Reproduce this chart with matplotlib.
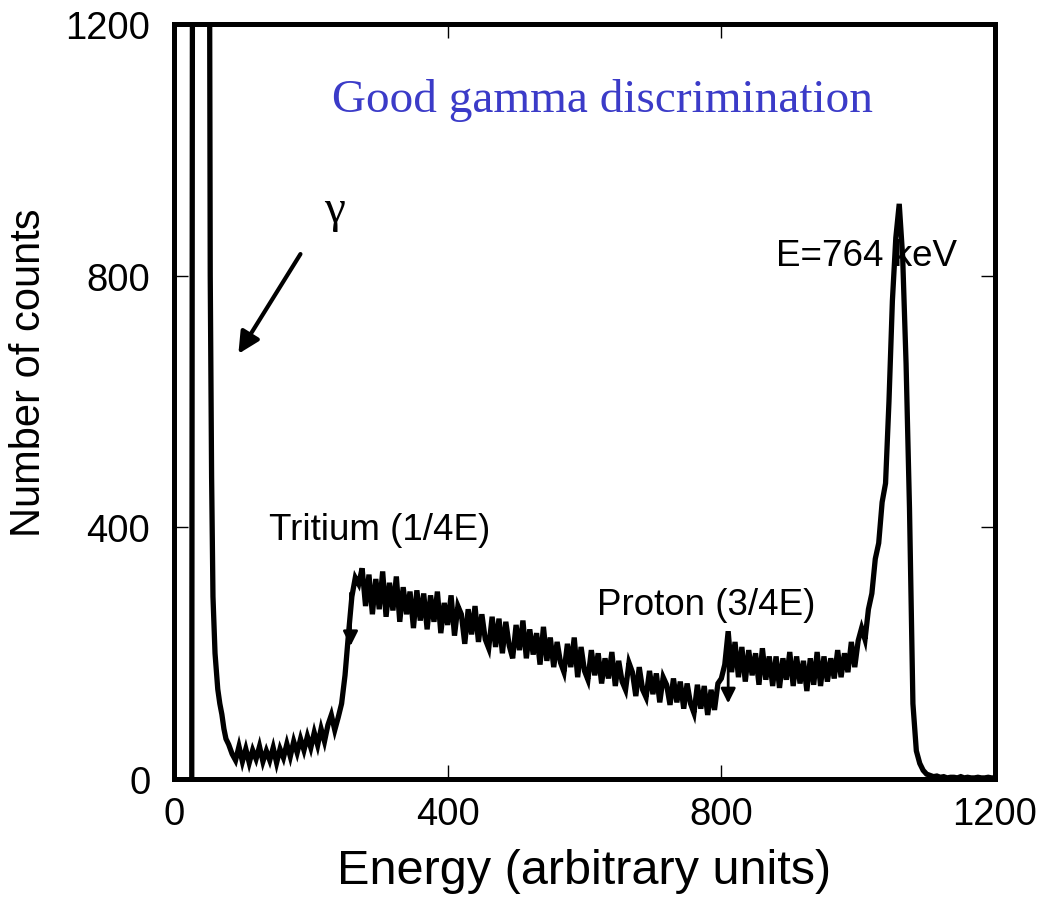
import numpy as np
from matplotlib import pyplot as plt

# gamma peak (runs off the top of the plot)
energy_gamma = [26, 27, 52, 53, 55, 57, 60, 64, 67, 70, 73, 76]
counts_gamma = [0, 1300, 1300, 800, 480, 290, 200, 143, 120, 103, 80, 64]

# channels on a 5-unit grid, read segment by segment
counts_low = [55, 40, 30, 52, 28, 48, 26, 46, 32, 52, 28, 45, 30, 50, 26, 48, 34,
              56, 36, 60, 42, 64, 46, 68, 50, 74, 54, 80, 60, 86, 102, 78, 98]  # 80-240
counts_edge = [120, 165, 230, 290, 320]                                     # 245-265
counts_tritium = [310, 335, 275, 325, 262, 318, 270, 330, 258, 312,
                  268, 322, 250, 305, 262, 298, 240, 300, 252, 295,
                  238, 292, 250, 298, 232, 280, 245, 292, 228, 275,
                  262, 215, 270, 230, 275, 218, 262, 222, 208, 258,
                  210, 255, 200, 250, 212, 192, 245, 205, 252, 192,
                  238, 198, 232, 182, 242, 188, 225, 178, 218, 185,
                  170, 215, 178, 225, 162, 210, 172, 158, 205, 165,
                  200, 152, 192, 160, 202, 148, 188, 155, 142, 185,
                  170, 132, 178, 142, 130, 172, 135, 168, 122, 162,
                  150, 118, 160, 122, 155, 112, 152, 120, 105, 150,
                  112, 148, 102, 142, 110, 152]                              # 270-795
counts_proton = [160, 182, 235, 170, 218, 162, 210, 155, 205, 165,
                 200, 150, 208, 158, 195, 148, 195, 145, 192, 158,
                 202, 148, 195, 152, 188, 140, 192, 150, 202, 148,
                 195, 155, 192, 160, 205, 162, 200, 170, 218, 178]           # 800-995
counts_peak = [220, 240, 222, 270, 295, 350, 375, 440, 470, 600, 760,
               860, 914, 830, 660, 430, 120, 45, 25, 14, 8]                  # 1000-1100
counts_tail = [6, 4, 5, 3, 4, 2, 3, 3, 2, 4, 2, 3, 2, 2, 3, 2, 2, 3, 2, 2]   # 1105-1200

grid_counts = counts_low + counts_edge + counts_tritium + counts_proton + counts_peak + counts_tail
grid_energy = list(np.arange(80, 80 + 5 * len(grid_counts), 5))

energy = energy_gamma + grid_energy
counts = counts_gamma + grid_counts

fig = plt.figure(figsize=(10.43, 9.2), dpi=100)
ax = fig.add_axes([0.1668, 0.152, 0.7872, 0.821])

ax.plot(energy, counts, color="black", linewidth=3.8, solid_joinstyle="miter")

ax.set_xlim(0, 1200)
ax.set_ylim(0, 1200)
ticks = [0, 400, 800, 1200]
ax.set_xticks(ticks)
ax.set_yticks(ticks)
ax.tick_params(direction="in", length=10, width=1, top=True, right=True, labelsize=27.5)
ax.tick_params(axis="y", pad=17)
ax.tick_params(axis="x", pad=12)
for lab in ax.get_xticklabels() + ax.get_yticklabels():
    lab.set_fontfamily("Liberation Sans")
for sp in ax.spines.values():
    sp.set_linewidth(3.6)

ax.set_xlabel("Energy (arbitrary units)", fontsize=35, family="Liberation Sans", labelpad=12)
ax.set_ylabel("Number of counts", fontsize=30, family="Liberation Sans")
ax.yaxis.set_label_coords(-0.152, 0.54)

# annotations
ax.text(627, 1080, "Good gamma discrimination", color="#3b3bc8", fontsize=34,
        family="Liberation Serif", ha="center", va="center")
ax.text(234, 905, "γ", fontsize=34, family="Liberation Serif", ha="center", va="center")
ax.annotate("", xy=(92, 672), xytext=(187, 838),
            arrowprops=dict(arrowstyle="-|>", lw=3, color="black", mutation_scale=32))
ax.text(1012, 832, "E=764 keV", fontsize=26.5, family="Liberation Sans", ha="center", va="center")
ax.text(300, 397, "Tritium (1/4E)", fontsize=26.5, family="Liberation Sans", ha="center", va="center")
ax.annotate("", xy=(258, 207), xytext=(258, 300),
            arrowprops=dict(arrowstyle="-|>", lw=2, color="black", mutation_scale=22))
ax.text(778, 278, "Proton (3/4E)", fontsize=26.5, family="Liberation Sans", ha="center", va="center")
ax.annotate("", xy=(810, 116), xytext=(810, 234),
            arrowprops=dict(arrowstyle="-|>", lw=2, color="black", mutation_scale=22))

plt.savefig("out.png", dpi=100)
